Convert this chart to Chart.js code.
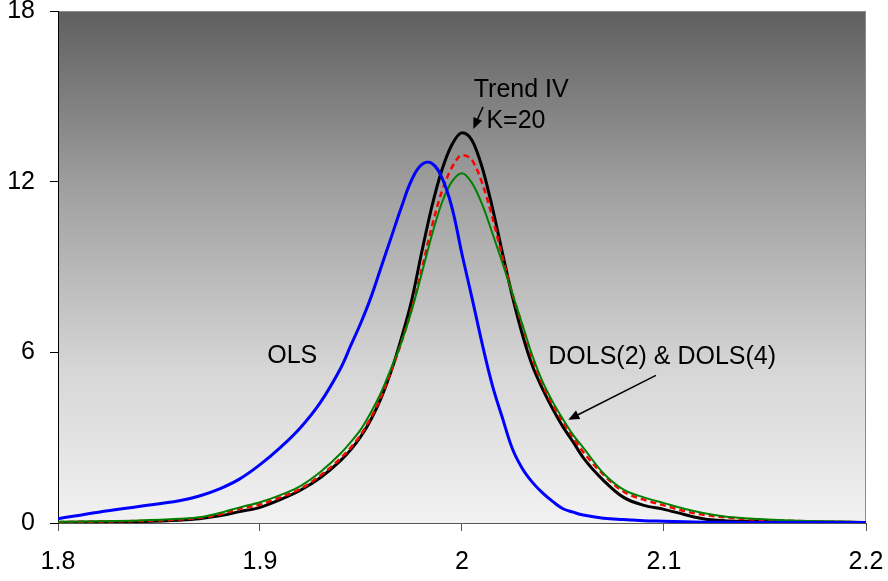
<!DOCTYPE html>
<html lang="en">
<head>
    <meta charset="UTF-8">
    <title>Density of estimates</title>
    <script src="https://cdn.jsdelivr.net/npm/chart.js"></script>
    <style>
        body {
            margin: 0;
            padding: 0;
            background-color: #fff;
        }

        #chart-container {
            width: 888px;
            height: 581px;
            position: relative;
        }
    </style>
</head>
<body>
    <div id="chart-container">
        <canvas id="densityChart"></canvas>
    </div>

    <script>
        // x grid shared by all four density curves
        const xGrid = [1.80, 1.82, 1.84, 1.86, 1.87, 1.88, 1.89, 1.90, 1.91, 1.92, 1.93, 1.94, 1.945,
            1.95, 1.955, 1.96, 1.965, 1.97, 1.975, 1.98, 1.985, 1.99, 1.995, 2.00, 2.005, 2.01,
            2.015, 2.02, 2.025, 2.03, 2.035, 2.04, 2.045, 2.05, 2.055, 2.06, 2.07, 2.08, 2.09,
            2.10, 2.11, 2.12, 2.13, 2.14, 2.16, 2.18, 2.20];

        const olsValues = [0.15, 0.38, 0.58, 0.78, 0.95, 1.2, 1.55, 2.05, 2.65, 3.35, 4.25, 5.45, 6.25,
            7.05, 7.95, 9.0, 10.05, 11.1, 12.05, 12.6, 12.65, 12.15, 11.1, 9.45, 7.9, 6.3,
            4.85, 3.7, 2.6, 1.9, 1.42, 1.05, 0.75, 0.5, 0.38, 0.28, 0.17, 0.12, 0.08,
            0.06, 0.04, 0.03, 0.03, 0.02, 0.02, 0.02, 0.02];

        const trendIvValues = [0.02, 0.03, 0.05, 0.1, 0.15, 0.25, 0.4, 0.55, 0.82, 1.15, 1.6, 2.2, 2.58,
            3.05, 3.65, 4.4, 5.35, 6.5, 7.8, 9.5, 11.1, 12.4, 13.3, 13.72, 13.45, 12.5,
            11.1, 9.5, 7.95, 6.6, 5.5, 4.7, 4.0, 3.38, 2.85, 2.3, 1.5, 0.9, 0.62,
            0.48, 0.3, 0.14, 0.08, 0.06, 0.04, 0.03, 0.02];

        const dols2Values = [0.03, 0.05, 0.07, 0.12, 0.18, 0.3, 0.5, 0.65, 0.9, 1.2, 1.68, 2.28, 2.66,
            3.12, 3.72, 4.45, 5.35, 6.35, 7.5, 8.9, 10.4, 11.65, 12.5, 12.93, 12.75, 11.95,
            10.75, 9.35, 8.05, 6.9, 5.75, 4.85, 4.15, 3.55, 3.0, 2.5, 1.7, 1.1, 0.82,
            0.62, 0.42, 0.28, 0.2, 0.14, 0.08, 0.05, 0.02];

        const dols4Values = [0.04, 0.06, 0.09, 0.15, 0.2, 0.35, 0.55, 0.73, 0.98, 1.3, 1.8, 2.45, 2.85,
            3.3, 3.9, 4.6, 5.45, 6.35, 7.45, 8.75, 10.1, 11.25, 12.0, 12.3, 11.95, 11.2,
            10.2, 9.15, 8.05, 6.95, 5.85, 4.95, 4.25, 3.65, 3.1, 2.65, 1.75, 1.17, 0.9,
            0.7, 0.5, 0.34, 0.23, 0.17, 0.1, 0.06, 0.03];

        const xTicks = [1.8, 1.9, 2.0, 2.1, 2.2];
        const yTicks = [0, 6, 12, 18];

        const toPoints = (vals) => xGrid.map((x, i) => ({ x: x, y: vals[i] }));

        // gradient fill and frame behind the plot area
        const plotBackground = {
            id: 'plotBackground',
            beforeDraw(chart) {
                const { ctx, chartArea: a } = chart;
                const g = ctx.createLinearGradient(0, a.top, 0, a.bottom);
                g.addColorStop(0, '#5f5f5f');
                g.addColorStop(0.35, '#a0a0a0');
                g.addColorStop(0.7, '#d6d6d6');
                g.addColorStop(1, '#f2f2f2');
                ctx.save();
                ctx.fillStyle = g;
                ctx.fillRect(a.left, a.top, a.right - a.left, a.bottom - a.top);
                ctx.strokeStyle = '#8c8c8c';
                ctx.lineWidth = 1;
                ctx.beginPath();
                ctx.moveTo(a.left, a.top + 0.5);
                ctx.lineTo(a.right - 0.5, a.top + 0.5);
                ctx.lineTo(a.right - 0.5, a.bottom);
                ctx.stroke();
                ctx.restore();
            }
        };

        const arrow = (ctx, x1, y1, x2, y2) => {
            const ang = Math.atan2(y2 - y1, x2 - x1);
            ctx.beginPath();
            ctx.moveTo(x1, y1);
            ctx.lineTo(x2 - 6 * Math.cos(ang), y2 - 6 * Math.sin(ang));
            ctx.stroke();
            ctx.beginPath();
            ctx.moveTo(x2, y2);
            ctx.lineTo(x2 - 12 * Math.cos(ang - 0.4), y2 - 12 * Math.sin(ang - 0.4));
            ctx.lineTo(x2 - 12 * Math.cos(ang + 0.4), y2 - 12 * Math.sin(ang + 0.4));
            ctx.closePath();
            ctx.fill();
        };

        // text labels and arrows placed in data coordinates
        const annotations = {
            id: 'annotations',
            afterDatasetsDraw(chart) {
                const { ctx } = chart;
                const xs = chart.scales.x, ys = chart.scales.y;
                const px = (v) => xs.getPixelForValue(v);
                const py = (v) => ys.getPixelForValue(v);
                ctx.save();
                ctx.fillStyle = '#000';
                ctx.strokeStyle = '#000';
                ctx.lineWidth = 1.5;
                ctx.font = '25px "Liberation Sans", Arial, sans-serif';
                ctx.textBaseline = 'alphabetic';
                ctx.textAlign = 'left';
                ctx.fillText('Trend IV', px(2.0058), py(14.99));
                ctx.fillText('K=20', px(2.0121), py(13.87));
                ctx.fillText('OLS', px(1.9036), py(5.63));
                ctx.fillText('DOLS(2) & DOLS(4)', px(2.0427), py(5.60));
                arrow(ctx, px(2.0104), py(14.63), px(2.0056), py(13.85));
                arrow(ctx, px(2.0960), py(5.19), px(2.0526), py(3.63));
                ctx.restore();
            }
        };

        // keep the plot area fixed: no extra room for half labels at the ends
        const noEdgePadding = (s) => {
            s.paddingTop = 0;
            s.paddingBottom = 0;
            s.paddingLeft = 0;
            s.paddingRight = 0;
        };

        const config = {
            type: 'line',
            data: {
                datasets: [
                    {
                        label: 'OLS',
                        data: toPoints(olsValues),
                        borderColor: '#0000ff',
                        borderWidth: 3,
                        cubicInterpolationMode: 'default',
                        tension: 0.4,
                        order: 0
                    },
                    {
                        label: 'DOLS(4)',
                        data: toPoints(dols4Values),
                        borderColor: '#008000',
                        borderWidth: 2,
                        order: 1
                    },
                    {
                        label: 'DOLS(2)',
                        data: toPoints(dols2Values),
                        borderColor: '#ff0000',
                        borderWidth: 2.5,
                        borderDash: [6, 4],
                        order: 2
                    },
                    {
                        label: 'Trend IV K=20',
                        data: toPoints(trendIvValues),
                        borderColor: '#000000',
                        borderWidth: 3,
                        order: 3
                    }
                ]
            },
            options: {
                responsive: true,
                maintainAspectRatio: false,
                animation: false,
                layout: {
                    padding: { top: 11, right: 22, left: 0, bottom: 0 }
                },
                elements: {
                    point: { radius: 0 },
                    line: { cubicInterpolationMode: 'monotone', fill: false }
                },
                plugins: {
                    legend: { display: false },
                    tooltip: { enabled: false }
                },
                scales: {
                    x: {
                        type: 'linear',
                        min: 1.8,
                        max: 2.2,
                        afterBuildTicks: (s) => { s.ticks = xTicks.map(v => ({ value: v })); },
                        afterFit: (s) => { s.height = 58; noEdgePadding(s); },
                        grid: { drawOnChartArea: false, drawTicks: true, tickLength: 8, color: '#555' },
                        border: { display: true, color: '#555', width: 1 },
                        ticks: {
                            padding: 16,
                            color: '#000',
                            font: { family: '"Liberation Sans", Arial, sans-serif', size: 25 },
                            maxRotation: 0,
                            callback: (v) => String(+Number(v).toFixed(1))
                        }
                    },
                    y: {
                        min: 0,
                        max: 18,
                        afterBuildTicks: (s) => { s.ticks = yTicks.map(v => ({ value: v })); },
                        afterFit: (s) => { s.width = 58; noEdgePadding(s); },
                        grid: { drawOnChartArea: false, drawTicks: true, tickLength: 8, color: '#000' },
                        border: { display: true, color: '#000', width: 1 },
                        ticks: {
                            padding: 15,
                            color: '#000',
                            font: { family: '"Liberation Sans", Arial, sans-serif', size: 25 },
                            callback: (v) => String(v)
                        }
                    }
                }
            },
            plugins: [plotBackground, annotations]
        };

        const myChart = new Chart(document.getElementById('densityChart'), config);
    </script>
</body>
</html>
